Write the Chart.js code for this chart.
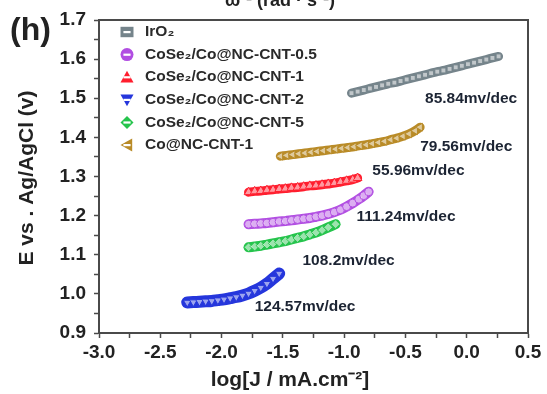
<!DOCTYPE html>
<html>
<head>
<meta charset="utf-8">
<script src="https://cdn.jsdelivr.net/npm/chart.js@4.4.1/dist/chart.umd.min.js"></script>
<style>
  html, body { margin: 0; padding: 0; background: #fff; }
  #wrap { width: 547px; height: 394px; position: relative; }
</style>
</head>
<body>
<div id="wrap"><canvas id="c" width="547" height="394"></canvas></div>
<script>
// series: log J (x) and potential E (y)
const labels = ['IrO₂', 'CoSe₂/Co@NC-CNT-0.5', 'CoSe₂/Co@NC-CNT-1', 'CoSe₂/Co@NC-CNT-2', 'CoSe₂/Co@NC-CNT-5', 'Co@NC-CNT-1'];

const iro2X = [-0.94,-0.89,-0.84,-0.79,-0.74,-0.69,-0.64,-0.59,-0.54,-0.49,-0.44,-0.39,-0.34,-0.29,-0.24,-0.19,-0.14,-0.09,-0.04,0.01,0.06,0.11,0.16,0.21,0.26];
const iro2Y = [1.513,1.517,1.521,1.525,1.529,1.533,1.537,1.540,1.544,1.548,1.552,1.556,1.560,1.564,1.568,1.571,1.575,1.579,1.583,1.587,1.591,1.595,1.599,1.603,1.607];

const cnt05X = [-1.78,-1.73,-1.68,-1.63,-1.58,-1.53,-1.48,-1.43,-1.38,-1.33,-1.28,-1.23,-1.18,-1.13,-1.08,-1.03,-0.98,-0.93,-0.88,-0.84,-0.80];
const cnt05Y = [1.178,1.179,1.180,1.181,1.183,1.185,1.186,1.188,1.190,1.192,1.194,1.197,1.200,1.204,1.209,1.215,1.223,1.232,1.242,1.251,1.261];

const cnt1X = [-1.78,-1.73,-1.68,-1.63,-1.58,-1.53,-1.48,-1.43,-1.38,-1.33,-1.28,-1.23,-1.18,-1.13,-1.08,-1.03,-0.98,-0.93,-0.89];
const cnt1Y = [1.260,1.262,1.263,1.265,1.266,1.268,1.269,1.271,1.272,1.274,1.276,1.277,1.279,1.281,1.283,1.286,1.289,1.292,1.296];

const cnt2X = [-2.28,-2.23,-2.18,-2.13,-2.08,-2.03,-1.98,-1.93,-1.88,-1.83,-1.78,-1.73,-1.68,-1.63,-1.58,-1.53];
const cnt2Y = [0.978,0.979,0.980,0.981,0.982,0.984,0.986,0.989,0.992,0.996,1.001,1.008,1.016,1.026,1.039,1.052];

const cnt5X = [-1.78,-1.73,-1.68,-1.63,-1.58,-1.53,-1.48,-1.43,-1.38,-1.33,-1.28,-1.23,-1.18,-1.13,-1.07];
const cnt5Y = [1.119,1.121,1.123,1.126,1.129,1.132,1.135,1.139,1.143,1.147,1.152,1.157,1.163,1.170,1.178];

const coX = [-1.52,-1.47,-1.42,-1.37,-1.32,-1.27,-1.22,-1.17,-1.12,-1.07,-1.02,-0.97,-0.92,-0.87,-0.82,-0.77,-0.72,-0.67,-0.62,-0.57,-0.52,-0.47,-0.42,-0.38];
const coY = [1.352,1.354,1.356,1.358,1.360,1.362,1.364,1.366,1.368,1.370,1.372,1.374,1.376,1.379,1.381,1.384,1.387,1.390,1.394,1.398,1.403,1.409,1.417,1.426];

// tafel slope labels, anchored at their left edge
const slopeText = ['85.84mv/dec', '79.56mv/dec', '55.96mv/dec', '111.24mv/dec', '108.2mv/dec', '124.57mv/dec'];
const slopeX = [-0.34, -0.38, -0.77, -0.90, -1.34, -1.73];
const slopeY = [1.500, 1.375, 1.316, 1.196, 1.086, 0.966];

const pts = (xs, ys) => xs.map((x, i) => ({ x, y: ys[i] }));

const styles = [
  { c: '#75848b', shape: 'rect', rot: 0, r: 3.5, w: 9 },
  { c: '#b14de2', shape: 'circle', rot: 0, r: 4, w: 10 },
  { c: '#ff1e2e', shape: 'triangle', rot: 0, r: 5, w: 9 },
  { c: '#2536dc', shape: 'triangle', rot: 180, r: 4.5, w: 12 },
  { c: '#25c44c', shape: 'rectRot', rot: 0, r: 4.5, w: 10 },
  { c: '#b98b27', shape: 'triangle', rot: -90, r: 4.5, w: 9 }
];
const seriesData = [pts(iro2X, iro2Y), pts(cnt05X, cnt05Y), pts(cnt1X, cnt1Y), pts(cnt2X, cnt2Y), pts(cnt5X, cnt5Y), pts(coX, coY)];

const datasets = seriesData.map((data, i) => ({
  label: labels[i],
  data,
  showLine: true,
  tension: 0.3,
  borderWidth: styles[i].w,
  borderColor: styles[i].c,
  borderCapStyle: 'round',
  pointStyle: styles[i].shape,
  pointRotation: styles[i].rot,
  pointRadius: styles[i].r,
  pointBorderWidth: 1,
  pointBorderColor: styles[i].c,
  pointBackgroundColor: 'rgba(255,255,255,0.55)'
}));

const FONT = '"Liberation Sans", Arial, sans-serif';
const bold = (size) => `bold ${size}px ${FONT}`;

function drawMarker(ctx, shape, rot, x, y, r, color) {
  ctx.save();
  ctx.translate(x, y);
  ctx.rotate(rot * Math.PI / 180);
  ctx.beginPath();
  if (shape === 'rect') {
    ctx.rect(-r, -r * 0.8, 2 * r, 1.6 * r);
  } else if (shape === 'circle') {
    ctx.arc(0, 0, r, 0, Math.PI * 2);
  } else if (shape === 'rectRot') {
    ctx.moveTo(0, -r); ctx.lineTo(r, 0); ctx.lineTo(0, r); ctx.lineTo(-r, 0); ctx.closePath();
  } else {
    ctx.moveTo(0, -r); ctx.lineTo(r, r * 0.8); ctx.lineTo(-r, r * 0.8); ctx.closePath();
  }
  ctx.fillStyle = color;
  ctx.fill();
  ctx.restore();
  // white stripe, Origin style half filled look
  ctx.fillStyle = '#fff';
  ctx.fillRect(x - r * 0.55, y - 1, r * 1.1, 2.2);
}

const decor = {
  id: 'decor',
  afterDraw(chart) {
    const { ctx, chartArea: a, scales: { x, y } } = chart;
    ctx.save();
    // frame
    ctx.strokeStyle = '#4a4a4a';
    ctx.lineWidth = 2;
    ctx.strokeRect(a.left, a.top, a.right - a.left, a.bottom - a.top);

    // legend
    ctx.font = bold(15.5);
    ctx.textBaseline = 'middle';
    ctx.textAlign = 'left';
    labels.forEach((t, i) => {
      const ly = 32 + i * 22.6;
      drawMarker(ctx, styles[i].shape, styles[i].rot, 127, ly, 6.5, styles[i].c);
      ctx.fillStyle = '#2a2a2a';
      ctx.fillText(t, 145, ly);
    });

    // slope annotations
    ctx.fillStyle = '#1c2433';
    ctx.font = bold(15.5);
    slopeText.forEach((t, i) => {
      ctx.fillText(t, x.getPixelForValue(slopeX[i]), y.getPixelForValue(slopeY[i]));
    });

    // axis titles
    ctx.fillStyle = '#222';
    ctx.font = bold(21);
    ctx.textAlign = 'center';
    ctx.fillText('log[J / mA.cm⁻²]', 290, 380);
    ctx.save();
    ctx.translate(27, 178);
    ctx.rotate(-Math.PI / 2);
    ctx.fillText('E vs . Ag/AgCl (v)', 0, 0);
    ctx.restore();

    // panel letter and the clipped title of the panel above
    ctx.textAlign = 'left';
    ctx.font = bold(32);
    ctx.fillText('(h)', 10, 31);
    ctx.textAlign = 'center';
    ctx.font = bold(18);
    ctx.fillText('ω⁻¹ (rad · s⁻¹)', 280, 1);
    ctx.restore();
  }
};

const tickFont = { family: FONT, size: 19, weight: 'bold' };

new Chart(document.getElementById('c'), {
  type: 'scatter',
  data: { datasets },
  plugins: [decor],
  options: {
    responsive: false,
    animation: false,
    layout: { padding: { top: 20, right: 19, left: 0, bottom: 0 } },
    plugins: { legend: { display: false }, tooltip: { enabled: false } },
    scales: {
      x: {
        type: 'linear', min: -3, max: 0.5,
        afterFit: (s) => { s.height = 61; },
        ticks: {
          stepSize: 0.25,
          autoSkip: false,
          maxRotation: 0,
          padding: 3,
          color: '#222',
          font: tickFont,
          callback: (v) => (Math.abs(v * 2 - Math.round(v * 2)) < 1e-6 ? v.toFixed(1) : '')
        },
        grid: { drawOnChartArea: false, drawTicks: true, tickLength: 5, color: '#4a4a4a', tickWidth: 1.5 },
        border: { display: true, color: '#4a4a4a', width: 2 }
      },
      y: {
        type: 'linear', min: 0.9, max: 1.7,
        afterFit: (s) => { s.width = 99; },
        ticks: {
          stepSize: 0.05,
          autoSkip: false,
          padding: 8,
          color: '#222',
          font: tickFont,
          callback: (v) => (Math.abs(v * 10 - Math.round(v * 10)) < 1e-6 ? v.toFixed(1) : '')
        },
        grid: { drawOnChartArea: false, drawTicks: true, tickLength: 5, color: '#4a4a4a', tickWidth: 1.5 },
        border: { display: true, color: '#4a4a4a', width: 2 }
      }
    }
  }
});
</script>
</body>
</html>
